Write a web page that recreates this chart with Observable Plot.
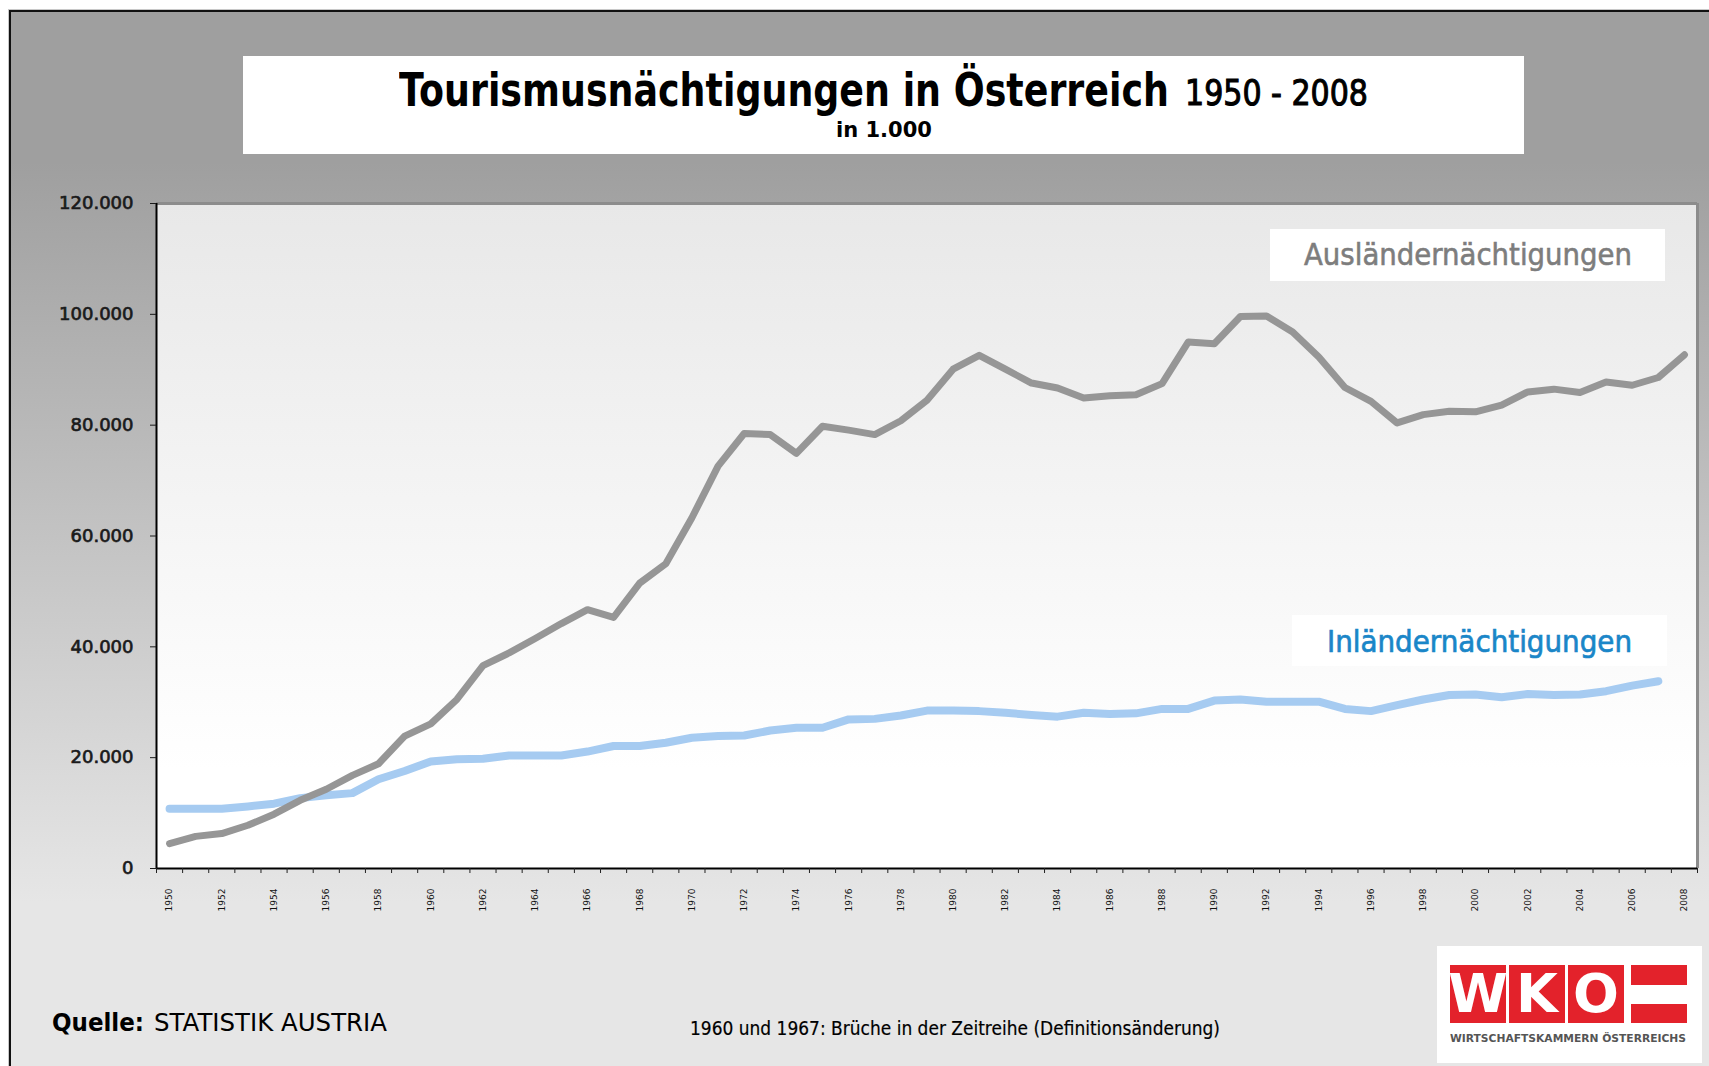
<!DOCTYPE html>
<html><head><meta charset="utf-8">
<script src="https://cdn.jsdelivr.net/npm/d3@7"></script>
<script src="https://cdn.jsdelivr.net/npm/@observablehq/plot@0.6"></script>
<style>
body{margin:0;background:#fff;}
#page{position:relative;width:1709px;height:1066px;overflow:hidden;font-family:"DejaVu Sans",sans-serif;}
.t{position:absolute;white-space:nowrap;line-height:1;transform-origin:0 0;}
.box{position:absolute;background:#fff;}
.red{position:absolute;background:#e3222b;}
</style></head><body>
<div id="page">
  <div style="position:absolute;left:9px;top:10px;width:1700px;height:1056px;border-left:2px solid #111;border-top:2px solid #111;box-shadow:-1px -1px 0 #c8c8c8;background:linear-gradient(to bottom,#9f9f9f 0px,#9f9f9f 150px,#e6e6e6 890px,#e6e6e6 100%);"></div>
  <div class="box" style="left:243px;top:56px;width:1281px;height:98px;"></div>
  <div id="chart" style="position:absolute;left:0;top:160px;"></div>
  <div class="box" style="left:1270px;top:229px;width:395px;height:52px;"></div>
  <div class="box" style="left:1292px;top:615px;width:375px;height:51px;"></div>
  <div class="box" style="left:1437px;top:946px;width:265px;height:117px;"></div>
  <div class="red" style="left:1450px;top:965px;width:56px;height:58px;"></div>
  <div class="red" style="left:1509px;top:965px;width:56px;height:58px;"></div>
  <div class="red" style="left:1568px;top:965px;width:56px;height:58px;"></div>
  <div class="red" style="left:1631px;top:965px;width:56px;height:20px;"></div>
  <div class="red" style="left:1631px;top:1004px;width:56px;height:19px;"></div>
</div>
<script>
// ---- data (values in 1.000 overnight stays) ----
const years = [1950,1951,1952,1953,1954,1955,1956,1957,1958,1959,
  1960,1961,1962,1963,1964,1965,1966,1967,1968,1969,
  1970,1971,1972,1973,1974,1975,1976,1977,1978,1979,
  1980,1981,1982,1983,1984,1985,1986,1987,1988,1989,
  1990,1991,1992,1993,1994,1995,1996,1997,1998,1999,
  2000,2001,2002,2003,2004,2005,2006,2007,2008];
const auslaender = [4500,5800,6300,7800,9800,12300,14300,16800,18900,23900,
  26100,30500,36600,38900,41500,44200,46700,45300,51500,55000,
  63300,72600,78500,78300,74900,79800,79100,78300,80800,84500,
  90100,92600,90100,87600,86700,84900,85300,85500,87500,95000,
  94700,99600,99700,96800,92300,86800,84300,80400,81900,82500,
  82400,83600,86000,86500,85900,87800,87200,88600,92700];
const inlaender = [10800,10800,10800,11200,11700,12700,13200,13600,16100,17600,
  19300,19700,19800,20400,20400,20400,21100,22100,22100,22700,
  23600,23900,24000,24900,25400,25400,26900,27000,27600,28500,
  28500,28400,28100,27700,27400,28100,27900,28000,28800,28800,
  30300,30500,30100,30100,30100,28800,28400,29500,30500,31300,
  31400,30900,31500,31300,31400,32000,33000,33800];
const yTicks = [0,20000,40000,60000,80000,100000,120000];
const xLabelYears = [1950,1952,1954,1956,1958,1960,1962,1964,1966,1968,1970,1972,1974,1976,1978,
  1980,1982,1984,1986,1988,1990,1992,1994,1996,1998,2000,2002,2004,2006,2008];
const seriesNames = ["Ausländernächtigungen","Inländernächtigungen"];
const titleText = "Tourismusnächtigungen in Österreich";
const titleYears = "1950 - 2008";
const subtitleText = "in 1.000";
const sourceLabel = "Quelle:";
const sourceText = "STATISTIK AUSTRIA";
const noteText = "1960 und 1967: Brüche in der Zeitreihe (Definitionsänderung)";

const ausData = years.map((year, i) => ({year, value: auslaender[i]}));
const inlData = inlaender.map((value, i) => ({year: years[i], value}));
const boundaries = years.map(y => y - 0.5).concat([years[years.length - 1] + 0.5]);
const fmt = d3.formatLocale({decimal: ",", thousands: ".", grouping: [3], currency: ["", "€"]}).format(",");

const chart = Plot.plot({
  width: 1709, height: 790,
  marginLeft: 156, marginRight: 12, marginTop: 43, marginBottom: 82,
  style: {background: "transparent", fontFamily: "DejaVu Sans", overflow: "visible"},
  x: {type: "linear", domain: [boundaries[0], boundaries[boundaries.length - 1]]},
  y: {domain: [0, 120000]},
  marks: [
    Plot.frame({fill: "url(#plotBg)", stroke: "none"}),
    Plot.ruleY([120000], {stroke: "#8c8c8c", strokeWidth: 3}),
    Plot.ruleX([boundaries[boundaries.length - 1]], {stroke: "#8c8c8c", strokeWidth: 3}),
    Plot.line(inlData, {x: "year", y: "value", stroke: "#a6cbf1", strokeWidth: 8, strokeLinejoin: "round", strokeLinecap: "round"}),
    Plot.line(ausData, {x: "year", y: "value", stroke: "#969696", strokeWidth: 7, strokeLinejoin: "round", strokeLinecap: "round"}),
    Plot.ruleX([boundaries[0]], {stroke: "#000", strokeWidth: 2}),
    Plot.ruleY([0], {stroke: "#000", strokeWidth: 2}),
    Plot.axisY({ticks: yTicks, tickFormat: fmt, tickSize: 6, tickPadding: 17, fontSize: 18, color: "#1a1a1a", label: null}),
    Plot.axisX({ticks: boundaries, tickSize: 5, tickFormat: () => "", label: null, color: "#222"}),
    Plot.axisX({ticks: xLabelYears, tickSize: 0, tickPadding: 20, tickRotate: -90, fontSize: 9, tickFormat: d => String(d), label: null, color: "#111"})
  ]
});
d3.select(chart).insert("defs", ":first-child").html(
  '<linearGradient id="plotBg" x1="0" y1="0" x2="0" y2="1"><stop offset="0" stop-color="#e8e8e8"/><stop offset="0.85" stop-color="#ffffff"/><stop offset="1" stop-color="#ffffff"/></linearGradient>');
// slightly heavier y tick labels, like the original rendering
d3.select(chart).selectAll('[aria-label="y-axis tick label"] text')
  .attr("stroke", "#1a1a1a").attr("stroke-width", 0.7).attr("paint-order", "normal");
document.getElementById("chart").appendChild(chart);

const page = document.getElementById("page");
function place(txt, o) {
  const d = document.createElement("div");
  d.className = "t";
  d.textContent = txt;
  Object.assign(d.style, {
    left: o.x + "px", top: (o.base - 0.846 * o.fs) + "px", fontSize: o.fs + "px",
    fontWeight: o.weight || "normal", color: o.color || "#000"
  });
  if (o.stroke) d.style.webkitTextStroke = o.stroke + "px " + (o.color || "#000");
  page.appendChild(d);
  if (o.w) {
    const w = d.getBoundingClientRect().width;
    d.style.transform = `scaleX(${o.w / w})`;
  }
  return d;
}
place(titleText, {x: 399, base: 106, fs: 46, weight: "bold", w: 770});
place(titleYears, {x: 1185, base: 106, fs: 35, w: 183, stroke: 1.1});
place(subtitleText, {x: 836, base: 138, fs: 21, weight: "bold", w: 96});
place(seriesNames[0], {x: 1304, base: 265, fs: 30, color: "#7d7d7d", w: 328, stroke: 0.6});
place(seriesNames[1], {x: 1327, base: 652, fs: 30, color: "#1a86c8", w: 305, stroke: 0.7});
place(sourceLabel, {x: 52, base: 1031, fs: 25, weight: "bold", w: 92});
place(sourceText, {x: 154, base: 1031, fs: 25, w: 233});
place(noteText, {x: 690, base: 1035, fs: 19, w: 530, stroke: 0.2});
// logo letters
[["W", 1450], ["K", 1509], ["O", 1568]].forEach(([ch, x]) => {
  const d = document.createElement("div");
  d.textContent = ch;
  Object.assign(d.style, {position: "absolute", left: x + "px", top: "965px", width: "56px", height: "58px",
    display: "flex", alignItems: "center", justifyContent: "center", color: "#fff",
    fontWeight: "bold", fontSize: "54px", lineHeight: "1", fontFamily: "DejaVu Sans"});
  page.appendChild(d);
});
place("WIRTSCHAFTSKAMMERN ÖSTERREICHS", {x: 1450, base: 1042, fs: 10, weight: "bold", color: "#555", w: 236});
</script>
</body></html>
